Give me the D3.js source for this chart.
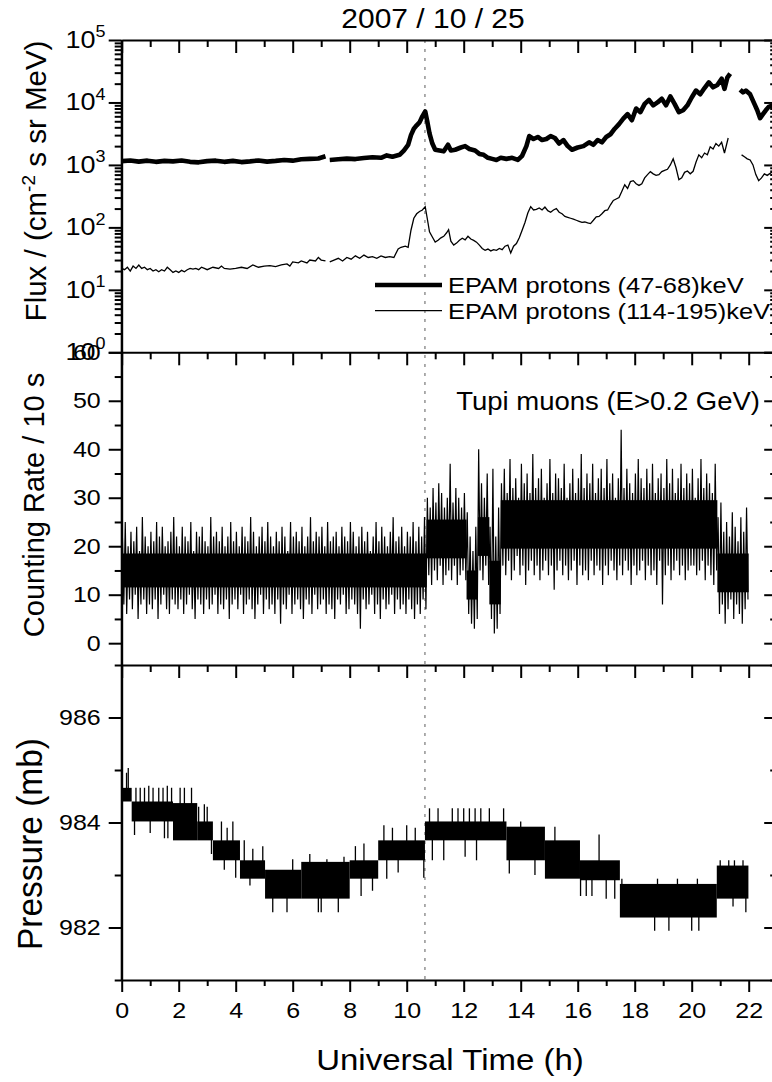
<!DOCTYPE html>
<html><head><meta charset="utf-8">
<script src="https://cdn.jsdelivr.net/npm/d3@7"></script>
<style>
body{margin:0;background:#fff;}
svg{display:block;font-family:"Liberation Sans",Arial,Helvetica,sans-serif;}
.ax .domain{stroke:#000;stroke-width:2;}
.ax line{stroke:#000;stroke-width:2;}
.ax text{font-family:"Liberation Sans",Arial,sans-serif;fill:#000;}
</style></head><body>
<svg id="c" width="772" height="1082"></svg>
<script>
// ---------------- DATA ----------------
const title = "2007 / 10 / 25";
const xTicks = [0,2,4,6,8,10,12,14,16,18,20,22];
const xMinor = [1,3,5,7,9,11,13,15,17,19,21,23];
const eventTime = 10.64;

// EPAM protons (47-68) keV : three segments separated by data gaps
const epamLoT = [
 [0.0,0.3,0.6,0.9,1.2,1.5,1.8,2.1,2.4,2.7,3.0,3.3,3.6,3.9,4.2,4.5,4.8,5.1,5.4,5.7,6.0,6.3,6.6,6.9,7.15],
 [7.3,7.6,7.9,8.2,8.5,8.8,9.1,9.3,9.5,9.75,9.9,10.05,10.15,10.25,10.35,10.45,10.55,10.65,10.72,10.8,10.9,11.0,11.15,11.3,11.45,11.55,11.7,11.9,12.05,12.2,12.4,12.55,12.7,12.85,13.0,13.15,13.3,13.5,13.7,13.9,14.05,14.2,14.3,14.45,14.6,14.75,14.9,15.05,15.2,15.35,15.5,15.65,15.8,16.0,16.2,16.4,16.55,16.7,16.85,17.0,17.15,17.3,17.45,17.6,17.75,17.9,18.05,18.2,18.35,18.5,18.65,18.8,18.95,19.1,19.25,19.4,19.55,19.7,19.85,20.0,20.15,20.3,20.45,20.6,20.75,20.9,21.05,21.15,21.25,21.35],
 [21.7,21.8,21.9,22.05,22.2,22.3,22.4,22.5,22.6,22.7,22.85,23.0]
];
const epamLoV = [
 [1150,1180,1130,1170,1120,1160,1140,1180,1120,1100,1150,1170,1120,1160,1110,1140,1180,1130,1160,1200,1170,1230,1250,1270,1380],
 [1200,1230,1260,1240,1290,1330,1300,1420,1350,1450,1700,2100,3000,3800,4300,4800,6000,7200,5000,3200,2200,1750,1700,1650,2100,1700,1750,1900,2000,1800,1700,1500,1450,1300,1250,1200,1300,1250,1300,1200,1400,2000,2900,2600,2800,2500,2600,2900,2700,2200,2500,2000,1750,1900,2000,2300,2100,2500,2300,2800,3100,3800,4500,5500,6500,5200,8000,7000,9500,11000,9000,10000,11500,9000,12500,9500,7000,7500,9000,12000,15500,13500,17000,21000,17500,19000,24000,16500,25000,29000],
 [16000,14500,15500,13500,9500,7500,5600,6500,7500,8500,9000,8500]
];

// EPAM protons (114-195) keV
const epamHiT = [
 [0.0,0.1,0.2,0.3,0.4,0.5,0.6,0.7,0.8,0.9,1.0,1.1,1.2,1.3,1.4,1.5,1.6,1.7,1.8,1.9,2.0,2.1,2.2,2.3,2.4,2.5,2.6,2.7,2.8,2.9,3.0,3.2,3.4,3.5,3.6,3.8,4.0,4.2,4.4,4.6,4.8,5.0,5.2,5.4,5.6,5.8,5.9,6.0,6.2,6.3,6.5,6.6,6.8,6.9,7.0,7.15],
 [7.3,7.45,7.6,7.75,7.9,8.05,8.2,8.35,8.5,8.65,8.8,8.95,9.1,9.25,9.4,9.55,9.7,9.8,9.95,10.05,10.15,10.25,10.35,10.45,10.55,10.65,10.72,10.8,10.9,11.0,11.1,11.2,11.3,11.4,11.47,11.55,11.65,11.75,11.85,11.95,12.05,12.15,12.25,12.35,12.45,12.55,12.65,12.75,12.85,12.95,13.05,13.15,13.25,13.35,13.45,13.55,13.65,13.75,13.85,13.95,14.05,14.15,14.25,14.35,14.45,14.55,14.65,14.75,14.85,14.95,15.05,15.15,15.25,15.35,15.45,15.55,15.65,15.75,15.85,15.95,16.05,16.15,16.25,16.35,16.45,16.55,16.65,16.75,16.85,16.95,17.05,17.15,17.25,17.35,17.45,17.55,17.65,17.75,17.85,17.95,18.05,18.15,18.25,18.35,18.45,18.55,18.65,18.75,18.85,18.95,19.05,19.15,19.25,19.35,19.45,19.55,19.65,19.75,19.85,19.95,20.05,20.15,20.25,20.35,20.45,20.55,20.65,20.75,20.85,20.95,21.05,21.15,21.28],
 [21.75,21.85,21.95,22.05,22.15,22.25,22.35,22.45,22.55,22.65,22.8,23.0]
];
const epamHiV = [
 [22,21,23,20,24,22,25,22,23,21,22,20,21,19.5,21,20,23,21,19,20,19,20.5,19.5,21,22,21.5,22,21,23,22,21,23,22,24,22,21.5,22,23,22,25,23,24,24.5,23.5,25,26,24,28,27,29,27,30,29,33,30,29],
 [28,30,32,29,33,31,35,32,36,33,34,32,35,33,34,33,45,48,50,48,90,140,165,180,190,215,140,85,70,58,62,68,72,82,92,60,52,56,62,67,63,72,65,62,58,52,46,43,45,42,44,43,46,44,50,52,39,50,55,68,90,120,170,215,190,195,205,190,212,185,175,190,200,175,165,150,145,140,135,130,125,120,122,118,115,130,148,150,165,185,190,230,270,285,300,380,480,420,540,560,500,470,500,620,700,780,720,680,700,780,820,850,1000,1250,900,580,620,760,800,720,790,1100,1450,1300,1550,1450,1950,1800,2200,2000,2300,1550,2700],
 [1450,1350,1250,1200,1000,700,560,620,720,680,760,780]
];

// Tupi muons: counting rate per 10 s, envelope per 0.1 h bin (upper / lower excursions)
const muStart = 0, muBin = 0.1;
const muHi = [
 22,25,20,23,21,24,19,26,22,20,23,21,25,22,24,20,21,23,26,22,
 20,24,22,21,25,19,23,22,24,21,20,26,22,23,21,24,20,22,25,21,
 23,20,24,22,21,26,23,20,22,24,21,25,22,20,23,21,24,22,19,25,
 22,23,21,24,20,22,26,21,23,22,24,20,25,21,22,23,20,24,22,21,
 25,23,20,22,24,21,23,19,22,25,21,24,22,20,23,26,21,22,24,20,
 23,22,25,21,24,22,26,
 30,28,32,29,33,31,28,30,37,29,32,30,28,31,
 27,22,19,24,
 40,33,30,35,
 24,36,22,28,
 33,36,31,38,32,34,30,37,33,35,31,39,32,34,36,30,33,38,31,35,
 34,32,37,30,33,36,31,34,39,32,35,33,37,31,34,36,32,38,33,35,
 30,34,44,32,36,33,31,35,38,34,32,36,33,37,31,34,35,32,38,33,
 36,31,34,37,32,35,33,36,30,34,38,32,35,33,31,37,
 26,29,23,25,22,27,24,21,26,23,28
];
const muLo = [
 8,6,9,7,10,5,8,9,6,8,7,9,5,8,10,7,6,9,8,7,
 9,6,8,10,7,5,9,8,6,9,7,8,10,6,8,7,9,5,8,9,
 7,10,6,8,9,7,5,8,10,6,9,7,8,6,9,4,8,7,10,6,
 8,9,7,5,9,8,6,10,7,8,9,6,8,7,5,9,8,10,6,7,
 9,8,6,3,9,7,8,10,6,8,5,9,7,8,10,6,9,7,8,6,
 9,7,5,8,6,9,7,
 14,12,15,13,16,12,14,15,13,16,12,14,15,13,
 6,4,3,5,
 15,13,16,12,
 5,2,3,6,
 16,14,17,13,15,18,14,16,12,15,17,14,16,13,15,17,14,16,11,15,
 17,14,16,13,15,17,12,16,14,15,13,17,14,16,15,12,16,14,17,15,
 13,16,14,17,15,12,16,14,15,17,13,16,14,15,12,17,8,14,16,13,
 15,17,14,16,13,15,16,16,14,15,17,13,16,14,12,15,
 6,8,4,7,9,5,8,6,4,7,9
];
// dense core of the muon band (where the trace is solid black)
const muCoreStart = [0.0,10.7,12.1,12.5,12.9,13.3,20.9];
const muCoreEnd   = [10.7,12.1,12.5,12.9,13.3,20.9,22.0];
const muCoreLo    = [11.5,17.5,9,18,8,19.5,10.5];
const muCoreHi    = [18.5,25.5,15,26,17,29.5,18.5];

// Pressure: quantised readings toggling between levels -> blocks, plus isolated excursions
const pStart = [0.0,0.35,1.8,2.65,3.2,4.15,5.03,6.3,8.0,9.0,10.64,13.5,14.85,16.08,17.48,20.88];
const pEnd   = [0.35,1.8,2.65,3.2,4.15,5.03,6.3,8.0,9.0,10.64,13.5,14.85,16.08,17.48,20.88,21.99];
const pLo    = [984.40,984.02,983.66,983.66,983.28,982.93,982.55,982.55,982.93,983.28,983.66,983.28,982.93,982.90,982.19,982.55];
const pHi    = [984.66,984.40,984.37,984.02,983.66,983.28,983.10,983.25,983.28,983.66,984.02,983.92,983.66,983.28,982.83,983.18];
const spikeT = [0.17,0.23,0.5,0.65,0.8,0.95,1.1,1.3,1.45,1.6,1.75,2.05,2.2,2.45,0.45,1.0,1.5,1.62,2.7,2.9,3.0,3.15,3.5,3.7,3.9,3.6,4.0,4.3,4.6,4.95,4.5,5.3,5.8,6.0,6.6,6.9,7.0,7.2,7.6,7.8,8.2,8.5,8.4,8.8,9.2,9.5,9.3,9.7,10.0,10.3,10.6,10.8,11.1,11.6,11.8,12.0,12.2,12.4,12.6,12.9,13.4,10.9,11.3,12.05,12.45,13.6,14.5,14.0,15.2,16.75,16.1,16.3,16.5,17.0,17.3,17.55,18.8,19.5,20.2,18.7,19.2,20.0,20.25,21.0,21.3,21.5,21.8,21.9,21.45];
const spikeV = [984.95,985.04,984.66,984.66,984.66,984.70,984.66,984.66,984.66,984.70,984.66,984.66,984.66,984.66,983.76,983.80,983.70,983.70,984.30,984.35,984.30,983.40,984.02,983.90,984.02,983.10,982.95,983.66,983.50,983.55,982.80,982.29,982.29,983.30,983.40,982.29,982.29,983.30,982.29,983.35,983.55,983.60,982.60,982.70,983.95,983.90,982.93,983.05,983.95,983.90,982.95,984.27,984.27,984.27,984.27,984.27,984.27,984.27,984.27,984.27,984.27,983.28,983.28,983.35,983.28,983.03,983.00,984.02,983.92,983.77,982.60,982.60,982.60,982.55,982.55,982.93,982.93,982.93,982.93,981.94,981.94,981.94,981.94,983.28,983.28,983.28,983.28,982.29,982.40];

// axis tick values
const fluxMajor = [1,10,100,1000,10000,100000];
const muMajor = [0,10,20,30,40,50,60];
const muMinor = [5,15,25,35,45,55];
const pMajor = [982,984,986];
const pMinor = [981,983,985,987];

// ---------------- DRAW ----------------
const svg = d3.select("#c");
const X0 = 121.7, X1 = 777.2;
const x = d3.scaleLinear().domain([0,23]).range([X0,X1]);
const yF = d3.scaleLog().domain([1,1e5]).range([352.3,40]);
const yM = d3.scaleLinear().domain([-4.5,60]).range([665,352.3]);
const yP = d3.scaleLinear().domain([981,987]).range([980,665]);

const fluxMinor = [];
for (let d=0; d<5; d++) for (let k=2;k<=9;k++) fluxMinor.push(k*Math.pow(10,d));

const defs = svg.append("defs");
[["cF",40,352.3],["cM",352.3,665],["cP",665,980]].forEach(([id,t,b])=>{
  defs.append("clipPath").attr("id",id).append("rect")
    .attr("x",X0).attr("y",t).attr("width",X1-X0).attr("height",b-t);
});

// dotted event line
svg.append("line").attr("x1",x(eventTime)).attr("x2",x(eventTime))
  .attr("y1",40).attr("y2",980).attr("stroke","#777").attr("stroke-width",1.2)
  .attr("stroke-dasharray","3,6");

// --- top panel data
const gF = svg.append("g").attr("clip-path","url(#cF)");
const lineF = d3.line().x(d=>x(d[0])).y(d=>yF(d[1]));
epamLoT.forEach((ts,i)=>{
  gF.append("path").datum(ts.map((t,j)=>[t,epamLoV[i][j]])).attr("d",lineF)
    .attr("fill","none").attr("stroke","#000").attr("stroke-width",4.6).attr("stroke-linejoin","round");
});
epamHiT.forEach((ts,i)=>{
  gF.append("path").datum(ts.map((t,j)=>[t,epamHiV[i][j]])).attr("d",lineF)
    .attr("fill","none").attr("stroke","#000").attr("stroke-width",1.3);
});

// --- middle panel data
const gM = svg.append("g").attr("clip-path","url(#cM)");
gM.selectAll("rect.core").data(muCoreStart.map((s,i)=>({s,e:muCoreEnd[i],lo:muCoreLo[i],hi:muCoreHi[i]})))
  .join("rect").attr("class","core")
  .attr("x",d=>x(d.s)).attr("width",d=>x(d.e)-x(d.s))
  .attr("y",d=>yM(d.hi)).attr("height",d=>yM(d.lo)-yM(d.hi)).attr("fill","#000");
const muPts = [];
muHi.forEach((h,i)=>{
  const t = muStart + i*muBin;
  muPts.push([t+muBin*0.25, h]);
  muPts.push([t+muBin*0.75, muLo[i]]);
});
gM.append("path").datum(muPts)
  .attr("d", d3.line().x(d=>x(d[0])).y(d=>yM(d[1])))
  .attr("fill","none").attr("stroke","#000").attr("stroke-width",1.2);

// --- bottom panel data
const gP = svg.append("g").attr("clip-path","url(#cP)");
gP.selectAll("rect.blk").data(pStart.map((s,i)=>({s,e:pEnd[i],lo:pLo[i],hi:pHi[i]})))
  .join("rect").attr("class","blk")
  .attr("x",d=>x(d.s)).attr("width",d=>x(d.e)-x(d.s))
  .attr("y",d=>yP(d.hi)).attr("height",d=>yP(d.lo)-yP(d.hi)).attr("fill","#000");
gP.selectAll("line.sp").data(spikeT.map((t,i)=>{
    const k = pStart.findIndex((s,j)=>t>=s && t<pEnd[j]);
    return {t, v:spikeV[i], m:(pLo[k]+pHi[k])/2};
  }))
  .join("line").attr("class","sp")
  .attr("x1",d=>x(d.t)).attr("x2",d=>x(d.t))
  .attr("y1",d=>yP(d.m)).attr("y2",d=>yP(d.v))
  .attr("stroke","#000").attr("stroke-width",1.3);

// ---------------- AXES ----------------
function ax(g){ g.attr("class","ax"); return g; }
const TF = 25;
function topTicks(yPos){
  ax(svg.append("g")).attr("transform",`translate(0,${yPos})`)
    .call(d3.axisTop(x).tickValues(xTicks).tickSize(-13).tickSizeOuter(0).tickFormat(""));
  ax(svg.append("g")).attr("transform",`translate(0,${yPos})`)
    .call(d3.axisTop(x).tickValues(xMinor).tickSize(-7).tickSizeOuter(0).tickFormat(""))
    .select(".domain").remove();
}
function sideAxes(y, major, minor, fmt){
  const l = ax(svg.append("g")).attr("transform",`translate(${X0},0)`)
    .call(d3.axisLeft(y).tickValues(major).tickSize(13).tickSizeOuter(0).tickPadding(8).tickFormat(fmt));
  l.selectAll("text").attr("font-size",TF).attr("transform","scale(1,0.9)");
  ax(svg.append("g")).attr("transform",`translate(${X0},0)`)
    .call(d3.axisLeft(y).tickValues(minor).tickSize(7).tickSizeOuter(0).tickFormat(""))
    .select(".domain").remove();
  ax(svg.append("g")).attr("transform",`translate(${X1},0)`)
    .call(d3.axisRight(y).tickValues(major).tickSize(-13).tickSizeOuter(0).tickFormat(""));
  ax(svg.append("g")).attr("transform",`translate(${X1},0)`)
    .call(d3.axisRight(y).tickValues(minor).tickSize(-7).tickSizeOuter(0).tickFormat(""))
    .select(".domain").remove();
  return l;
}

topTicks(40); topTicks(352.3); topTicks(665);

// top panel log axes (labels as 10^n with superscript)
sideAxes(yF, fluxMajor, fluxMinor, ()=> "");
fluxMajor.forEach((v,i)=>{
  const t = svg.append("text").attr("x",105.5).attr("y",yF(v)+8).attr("text-anchor","end")
    .attr("font-size",27).attr("transform",`translate(0,${(yF(v)+8)*0.1}) scale(1,0.9)`);
  t.append("tspan").text("10");
  t.append("tspan").attr("font-size",18).attr("dy",-12).text(i);
});

// middle & bottom
sideAxes(yM, muMajor, muMinor, d3.format("d"));
sideAxes(yP, pMajor, pMinor, d3.format("d"));

// bottom x axis
const xb = ax(svg.append("g")).attr("transform","translate(0,980)")
  .call(d3.axisBottom(x).tickValues(xTicks).tickSize(12).tickSizeOuter(0).tickPadding(13));
xb.selectAll("text").attr("font-size",TF).attr("transform","scale(1,0.9)");
ax(svg.append("g")).attr("transform","translate(0,980)")
  .call(d3.axisBottom(x).tickValues(xMinor).tickSize(6).tickSizeOuter(0).tickFormat(""))
  .select(".domain").remove();
svg.append("line").attr("x1",X0).attr("x2",X0).attr("y1",40).attr("y2",980)
  .attr("stroke","#000").attr("stroke-width",2);

// ---------------- TEXT ----------------
svg.append("text").attr("x",433).attr("y",28).attr("text-anchor","middle")
  .attr("font-size",30).attr("transform","translate(0,2.8) scale(1,0.9)").text(title);

// legend
const legY = [285, 310.7];
svg.append("line").attr("x1",375).attr("x2",442).attr("y1",legY[0]).attr("y2",legY[0])
  .attr("stroke","#000").attr("stroke-width",4.6);
svg.append("line").attr("x1",375).attr("x2",442).attr("y1",legY[1]).attr("y2",legY[1])
  .attr("stroke","#000").attr("stroke-width",1.3);
svg.append("text").attr("x",448).attr("y",293/0.9).attr("font-size",25.5)
  .attr("transform","scale(1,0.9)").text("EPAM protons (47-68)keV");
svg.append("text").attr("x",448).attr("y",319/0.9).attr("font-size",25.5)
  .attr("transform","scale(1,0.9)").text("EPAM protons (114-195)keV");

svg.append("text").attr("x",760).attr("y",410/0.92).attr("text-anchor","end").attr("font-size",27.5)
  .attr("transform","scale(1,0.92)").text("Tupi muons (E>0.2 GeV)");

// y labels
const fl = svg.append("text").attr("transform","translate(46,181) rotate(-90)")
  .attr("text-anchor","middle").attr("font-size",29.5);
fl.append("tspan").text("Flux / (cm");
fl.append("tspan").attr("font-size",19).attr("dy",-11).text("-2");
fl.append("tspan").attr("dy",11).text(" s sr MeV)");

svg.append("text").attr("transform","translate(44,505) rotate(-90)")
  .attr("text-anchor","middle").attr("font-size",29).text("Counting Rate / 10 s");
svg.append("text").attr("transform","translate(42,844) scale(1,0.93) rotate(-90)")
  .attr("text-anchor","middle").attr("font-size",36).text("Pressure (mb)");

svg.append("text").attr("x",450).attr("y",1070/0.88).attr("text-anchor","middle")
  .attr("font-size",33).attr("transform","scale(1,0.88)").text("Universal Time (h)");
</script></body></html>
